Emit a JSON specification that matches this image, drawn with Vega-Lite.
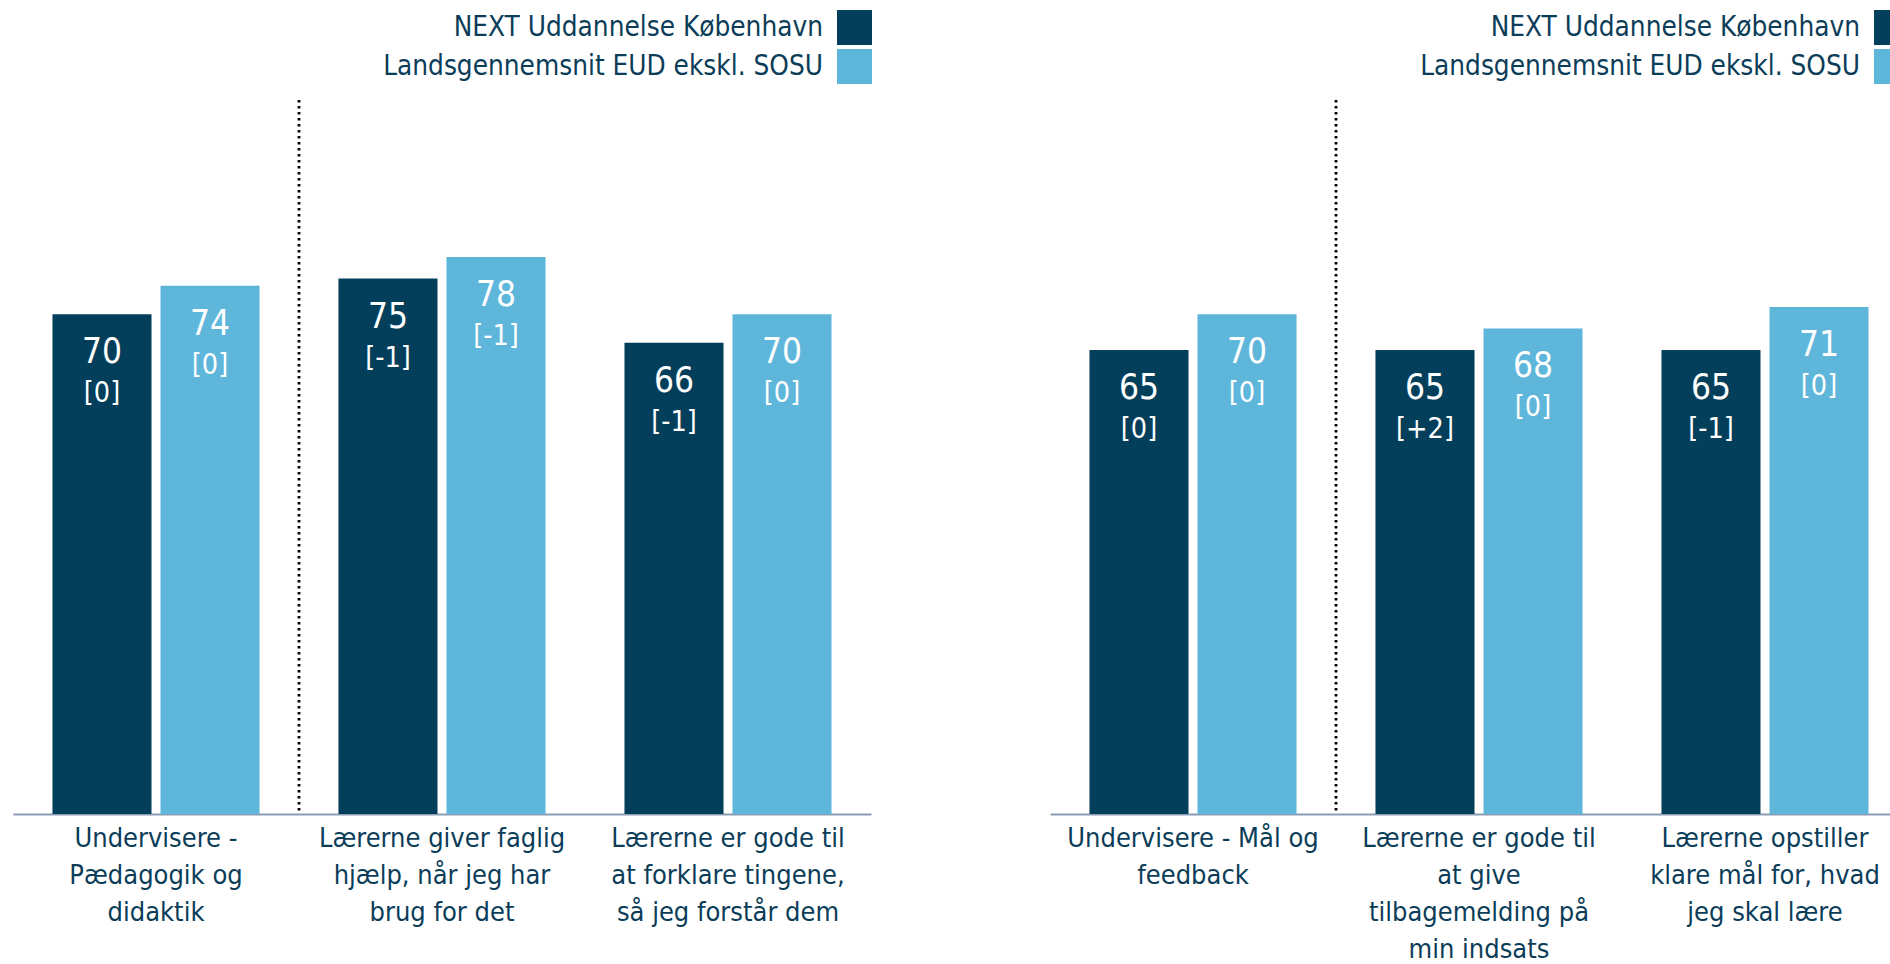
{
  "$schema": "https://vega.github.io/schema/vega-lite/v6.json",
  "background": "white",
  "padding": {"left": 13, "top": 10, "right": 0, "bottom": 0},
  "autosize": {"type": "pad"},
  "spacing": 178,
  "config": {
    "view": {"stroke": null},
    "font": "DejaVu Sans Condensed",
    "axisX": {
      "title": null, "domainColor": "#8A9DB2", "domainWidth": 2, "ticks": false, "grid": false,
      "labelAngle": 0, "labelFontSize": 27, "labelColor": "#0B3D59", "labelLineHeight": 37,
      "labelPadding": 11, "labelLimit": 0, "labelOverlap": false, "labelBound": false,
      "labelExpr": "split(datum.label, '|')", "labelAlign": "center", "labelBaseline": "top"
    },
    "legend": {
      "title": null, "orient": "none", "legendX": 824, "legendY": -90, "direction": "vertical",
      "symbolType": "square", "symbolSize": 1225, "symbolStrokeWidth": 0, "symbolOpacity": 1,
      "labelFontSize": 27.7, "labelColor": "#0B3D59", "labelAlign": "right", "labelOffset": -49,
      "rowPadding": 4, "labelLimit": 0, "padding": 0
    }
  },
  "data": {"values": [
    {"panel": "A", "cat": "Undervisere -|Pædagogik og|didaktik", "series": "NEXT Uddannelse København", "value": 70, "change": "[0]"},
    {"panel": "A", "cat": "Undervisere -|Pædagogik og|didaktik", "series": "Landsgennemsnit EUD ekskl. SOSU", "value": 74, "change": "[0]"},
    {"panel": "A", "cat": "Lærerne giver faglig|hjælp, når jeg har|brug for det", "series": "NEXT Uddannelse København", "value": 75, "change": "[-1]"},
    {"panel": "A", "cat": "Lærerne giver faglig|hjælp, når jeg har|brug for det", "series": "Landsgennemsnit EUD ekskl. SOSU", "value": 78, "change": "[-1]"},
    {"panel": "A", "cat": "Lærerne er gode til|at forklare tingene,|så jeg forstår dem", "series": "NEXT Uddannelse København", "value": 66, "change": "[-1]"},
    {"panel": "A", "cat": "Lærerne er gode til|at forklare tingene,|så jeg forstår dem", "series": "Landsgennemsnit EUD ekskl. SOSU", "value": 70, "change": "[0]"},
    {"panel": "B", "cat": "Undervisere - Mål og|feedback", "series": "NEXT Uddannelse København", "value": 65, "change": "[0]"},
    {"panel": "B", "cat": "Undervisere - Mål og|feedback", "series": "Landsgennemsnit EUD ekskl. SOSU", "value": 70, "change": "[0]"},
    {"panel": "B", "cat": "Lærerne er gode til|at give|tilbagemelding på|min indsats", "series": "NEXT Uddannelse København", "value": 65, "change": "[+2]"},
    {"panel": "B", "cat": "Lærerne er gode til|at give|tilbagemelding på|min indsats", "series": "Landsgennemsnit EUD ekskl. SOSU", "value": 68, "change": "[0]"},
    {"panel": "B", "cat": "Lærerne opstiller|klare mål for, hvad|jeg skal lære", "series": "NEXT Uddannelse København", "value": 65, "change": "[-1]"},
    {"panel": "B", "cat": "Lærerne opstiller|klare mål for, hvad|jeg skal lære", "series": "Landsgennemsnit EUD ekskl. SOSU", "value": 71, "change": "[0]"}
  ]},
  "resolve": {"scale": {"color": "independent"}},
  "hconcat": [
    {
      "width": 858, "height": 714,
      "transform": [{"filter": "datum.panel == 'A'"}],
      "resolve": {"scale": {"x": "independent"}, "axis": {"x": "independent"}},
      "layer": [
        {
          "encoding": {
            "x": {"field": "cat", "type": "nominal", "sort": null, "scale": {"paddingInner": 0.276, "paddingOuter": 0.138}},
            "xOffset": {"field": "series", "type": "nominal", "sort": ["NEXT Uddannelse København", "Landsgennemsnit EUD ekskl. SOSU"], "scale": {"paddingInner": 0.0833, "paddingOuter": 0}},
            "y": {"field": "value", "type": "quantitative", "scale": {"domain": [0, 100]}, "axis": null}
          },
          "layer": [
            {
              "mark": {"type": "bar"},
              "encoding": {
                "color": {"field": "series", "type": "nominal", "scale": {"domain": ["NEXT Uddannelse København", "Landsgennemsnit EUD ekskl. SOSU"], "range": ["#033F5A", "#5FB6DB"]}}
              }
            },
            {
              "mark": {"type": "text", "color": "white", "fontSize": 35, "baseline": "middle", "align": "center", "dy": 38},
              "encoding": {"text": {"field": "value", "type": "quantitative"}}
            },
            {
              "mark": {"type": "text", "color": "white", "fontSize": 28.5, "baseline": "middle", "align": "center", "dy": 79},
              "encoding": {"text": {"field": "change", "type": "nominal"}}
            }
          ]
        },
        {
          "transform": [{"filter": "datum.cat == 'Lærerne giver faglig|hjælp, når jeg har|brug for det' && datum.series == 'NEXT Uddannelse København'"}],
          "mark": {"type": "rule", "color": "black", "strokeWidth": 2.8, "strokeDash": [2.6, 3.4]},
          "encoding": {
            "x": {"field": "cat", "type": "nominal", "bandPosition": 0, "axis": null, "scale": {"domain": ["Undervisere -|Pædagogik og|didaktik", "Lærerne giver faglig|hjælp, når jeg har|brug for det", "Lærerne er gode til|at forklare tingene,|så jeg forstår dem"], "paddingInner": 0, "paddingOuter": 0}},
            "y": {"datum": 100, "type": "quantitative"},
            "y2": {"datum": 0}
          }
        }
      ]
    },
    {
      "width": 858, "height": 714,
      "transform": [{"filter": "datum.panel == 'B'"}],
      "resolve": {"scale": {"x": "independent"}, "axis": {"x": "independent"}},
      "layer": [
        {
          "encoding": {
            "x": {"field": "cat", "type": "nominal", "sort": null, "scale": {"paddingInner": 0.276, "paddingOuter": 0.138}},
            "xOffset": {"field": "series", "type": "nominal", "sort": ["NEXT Uddannelse København", "Landsgennemsnit EUD ekskl. SOSU"], "scale": {"paddingInner": 0.0833, "paddingOuter": 0}},
            "y": {"field": "value", "type": "quantitative", "scale": {"domain": [0, 100]}, "axis": null}
          },
          "layer": [
            {
              "mark": {"type": "bar"},
              "encoding": {
                "color": {"field": "series", "type": "nominal", "scale": {"domain": ["NEXT Uddannelse København", "Landsgennemsnit EUD ekskl. SOSU"], "range": ["#033F5A", "#5FB6DB"]}}
              }
            },
            {
              "mark": {"type": "text", "color": "white", "fontSize": 35, "baseline": "middle", "align": "center", "dy": 38},
              "encoding": {"text": {"field": "value", "type": "quantitative"}}
            },
            {
              "mark": {"type": "text", "color": "white", "fontSize": 28.5, "baseline": "middle", "align": "center", "dy": 79},
              "encoding": {"text": {"field": "change", "type": "nominal"}}
            }
          ]
        },
        {
          "transform": [{"filter": "datum.cat == 'Lærerne er gode til|at give|tilbagemelding på|min indsats' && datum.series == 'NEXT Uddannelse København'"}],
          "mark": {"type": "rule", "color": "black", "strokeWidth": 2.8, "strokeDash": [2.6, 3.4]},
          "encoding": {
            "x": {"field": "cat", "type": "nominal", "bandPosition": 0, "axis": null, "scale": {"domain": ["Undervisere - Mål og|feedback", "Lærerne er gode til|at give|tilbagemelding på|min indsats", "Lærerne opstiller|klare mål for, hvad|jeg skal lære"], "paddingInner": 0, "paddingOuter": 0}},
            "y": {"datum": 100, "type": "quantitative"},
            "y2": {"datum": 0}
          }
        }
      ]
    }
  ]
}
